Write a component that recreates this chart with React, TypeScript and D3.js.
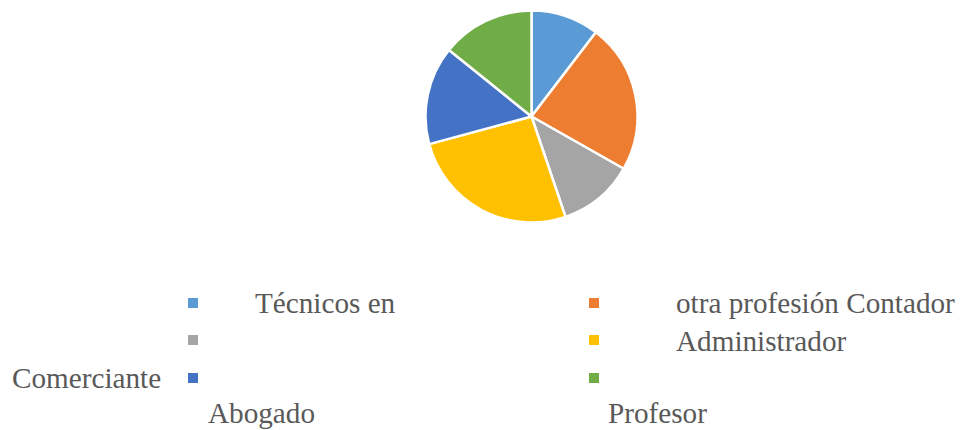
import React from "react";
import * as d3 from "d3";

const categories = [
  "Técnicos en otra profesión",
  "Contador",
  "Administrador",
  "Comerciante",
  "Abogado",
  "Profesor",
];
const values = [10.4, 22.8, 11.6, 26.0, 15.0, 14.2];
const colors = ["#5B9BD5", "#ED7D31", "#A5A5A5", "#FFC000", "#4472C4", "#70AD47"];

// legend text fragments as they appear in the picture
const legendTexts = [
  { text: "Técnicos en", x: 255, y: 313 },
  { text: "otra profesión Contador", x: 676, y: 313 },
  { text: "Administrador", x: 676, y: 351 },
  { text: "Comerciante", x: 12, y: 388 },
  { text: "Abogado", x: 208, y: 423 },
  { text: "Profesor", x: 608, y: 423 },
];
const markerCols = [188, 589];
const markerRows = [298, 335, 373];

export default function App() {
  const W = 966;
  const H = 430;
  const cx = 531.5;
  const cy = 116.5;
  const r = 106;
  const pie = d3.pie<number>().sort(null).value((d) => d)(values);
  const arc = d3.arc<d3.PieArcDatum<number>>().innerRadius(0).outerRadius(r);

  return (
    <svg
      width={W}
      height={H}
      style={{ position: "absolute", left: 0, top: 0, background: "#fff" }}
    >
      <g transform={`translate(${cx},${cy})`}>
        {pie.map((p, i) => (
          <path
            key={categories[i]}
            d={arc(p) || ""}
            fill={colors[i]}
            stroke="#fff"
            strokeWidth={2.5}
            strokeLinejoin="round"
          />
        ))}
      </g>
      {categories.map((c, i) => (
        <rect
          key={"m" + c}
          x={markerCols[i % 2]}
          y={markerRows[Math.floor(i / 2)]}
          width={10}
          height={10}
          fill={colors[i]}
        />
      ))}
      {legendTexts.map((t) => (
        <text
          key={t.text}
          x={t.x}
          y={t.y}
          fontFamily="'Liberation Serif', 'Times New Roman', serif"
          fontSize={29.2}
          fill="#595959"
        >
          {t.text}
        </text>
      ))}
    </svg>
  );
}
